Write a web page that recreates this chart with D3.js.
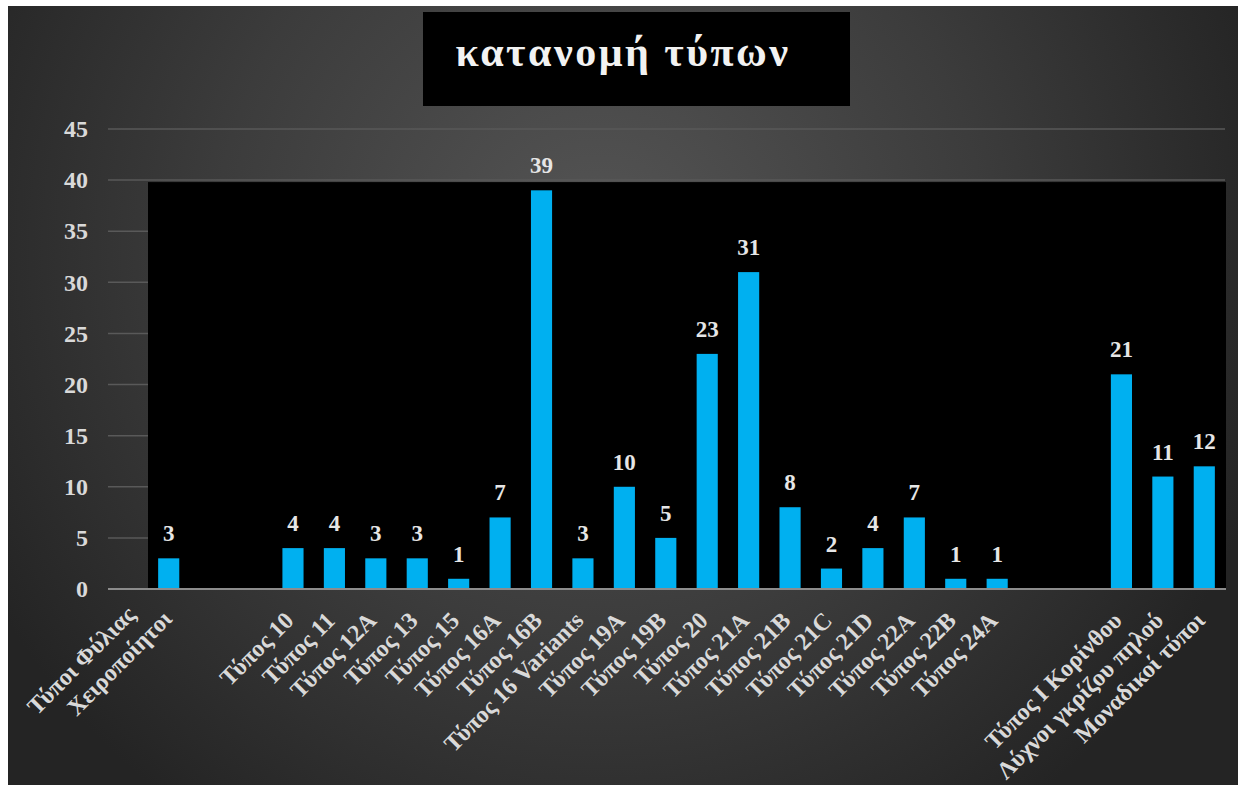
<!DOCTYPE html>
<html>
<head>
<meta charset="utf-8">
<script src="https://cdn.jsdelivr.net/npm/d3@7"></script>
<style>
  html, body { margin: 0; padding: 0; background: #ffffff; }
  svg { display: block; }
  text { font-family: "Liberation Serif", "DejaVu Serif", serif; font-weight: bold; }
</style>
</head>
<body>
<svg id="chart" width="1242" height="785"></svg>
<script>
// ---- data ----
const categories = [
  "Τύποι Φύλιας\nΧειροποίητοι", "", "",
  "Τύπος 10", "Τύπος 11", "Τύπος 12A", "Τύπος 13", "Τύπος 15", "Τύπος 16A", "Τύπος 16B",
  "Τύπος 16 Variants", "Τύπος 19A", "Τύπος 19B", "Τύπος 20", "Τύπος 21A", "Τύπος 21B",
  "Τύπος 21C", "Τύπος 21D", "Τύπος 22A", "Τύπος 22B", "Τύπος 24A", "", "",
  "Τύπος I Κορίνθου", "Λύχνοι γκρίζου πηλού", "Μοναδικοί τύποι"
];
const values = [
  3, null, null,
  4, 4, 3, 3, 1, 7, 39,
  3, 10, 5, 23, 31, 8,
  2, 4, 7, 1, 1, null, null,
  21, 11, 12
];
const yTicks = [0, 5, 10, 15, 20, 25, 30, 35, 40, 45];
const title = "κατανομή τύπων";

// ---- layout ----
const svg = d3.select("#chart");

const defs = svg.append("defs");
const grad = defs.append("radialGradient")
  .attr("id", "bg").attr("gradientUnits", "userSpaceOnUse")
  .attr("cx", 600).attr("cy", 250).attr("r", 700);
grad.append("stop").attr("offset", "0%").attr("stop-color", "#555555");
grad.append("stop").attr("offset", "55%").attr("stop-color", "#3c3c3c");
grad.append("stop").attr("offset", "100%").attr("stop-color", "#242424");

svg.append("rect").attr("x", 8).attr("y", 6).attr("width", 1230).attr("height", 779)
  .attr("fill", "url(#bg)");

const idx = d3.range(categories.length);
const x = d3.scaleBand().domain(idx).range([148, 1225]).paddingInner(0.49).paddingOuter(0.245);
const y = d3.scaleLinear().domain([0, 45]).range([589, 129]);

// gridlines
svg.append("g").selectAll("line").data(yTicks.filter(t => t > 0)).join("line")
  .attr("x1", 108).attr("x2", 1225)
  .attr("y1", d => y(d)).attr("y2", d => y(d))
  .attr("stroke", "#595959").attr("stroke-width", 1.5);

// black plot area
svg.append("rect").attr("x", 148).attr("y", y(40) + 2).attr("width", 1226 - 148).attr("height", y(0) - y(40) - 2)
  .attr("fill", "#000000");

// y axis labels
const yAxis = d3.axisLeft(y).tickValues(yTicks).tickSize(0).tickPadding(0);
const gy = svg.append("g").attr("transform", "translate(88,0)").call(yAxis);
gy.select(".domain").remove();
gy.selectAll("text").attr("fill", "#d9d9d9").attr("font-size", 24)
  .attr("font-family", "Liberation Serif").attr("font-weight", "bold");

// bars
svg.append("g").selectAll("rect").data(idx.filter(i => values[i] != null)).join("rect")
  .attr("x", i => x(i)).attr("width", x.bandwidth())
  .attr("y", i => y(values[i])).attr("height", i => y(0) - y(values[i]))
  .attr("fill", "#00b0f0");

// zero line
svg.append("line").attr("x1", 108).attr("x2", 1226).attr("y1", y(0)).attr("y2", y(0))
  .attr("stroke", "#8c8c8c").attr("stroke-width", 2);

// value labels
svg.append("g").selectAll("text").data(idx.filter(i => values[i] != null)).join("text")
  .attr("x", i => x(i) + x.bandwidth() / 2)
  .attr("y", i => y(values[i]) - 17)
  .attr("text-anchor", "middle")
  .attr("fill", "#e6e6e6").attr("font-size", 23)
  .text(i => values[i]);

// x labels
const xl = svg.append("g").selectAll("text").data(idx.filter(i => categories[i] !== "")).join("text")
  .attr("transform", i => `translate(${x(i) + x.bandwidth() / 2 - 4},${616}) rotate(-45)`)
  .attr("text-anchor", "end")
  .attr("fill", "#d9d9d9").attr("font-size", 24);
xl.each(function(i) {
  const lines = categories[i].split("\n");
  const t = d3.select(this);
  if (lines.length === 1) {
    t.append("tspan").attr("x", 0).attr("dy", "0.35em").text(lines[0]);
  } else {
    t.append("tspan").attr("x", -20).attr("dy", "-0.82em").text(lines[0]);
    t.append("tspan").attr("x", 3).attr("dy", "1.2em").text(lines[1]);
  }
});

// title
svg.append("rect").attr("x", 423).attr("y", 12).attr("width", 427).attr("height", 94).attr("fill", "#000000");
svg.append("text").attr("x", 623).attr("y", 66).attr("text-anchor", "middle")
  .attr("fill", "#f2f2f2").attr("font-size", 42).attr("letter-spacing", 2.5)
  .text(title);
</script>
</body>
</html>
